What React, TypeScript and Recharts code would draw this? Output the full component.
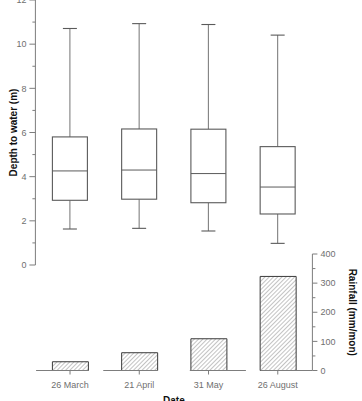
import React from 'react';
import { ComposedChart, Bar, XAxis, YAxis, Label, ReferenceLine } from 'recharts';

// Sampling dates shared by both panels
const dates = ['26 March', '21 April', '31 May', '26 August'];

// Depth-to-water distribution per date (m)
const whiskerLow = [1.63, 1.66, 1.54, 0.98];
const quartile1 = [2.93, 2.98, 2.82, 2.31];
const medians = [4.26, 4.3, 4.14, 3.53];
const quartile3 = [5.8, 6.16, 6.15, 5.36];
const whiskerHigh = [10.71, 10.93, 10.89, 10.41];

// Monthly rainfall (mm/mon)
const rainfall = [30, 61, 109, 323];

// Axis ticks
const depthTicks = [0, 1, 2, 3, 4, 5, 6, 7, 8, 9, 10, 11, 12];
const rainTicks = [0, 50, 100, 150, 200, 250, 300, 350, 400];
const dateTicks = [0, 1, 2, 3];

// Pieces of the rainfall baseline, in category units
const baselineSpans: [number, number][] = [
  [-0.49, 0.26],
  [0.48, 1.27],
  [1.73, 2.54],
  [2.75, 3.5],
];

const boxRows = dates.map((date, i) => ({
  date,
  low: whiskerLow[i],
  q1: quartile1[i],
  median: medians[i],
  q3: quartile3[i],
  high: whiskerHigh[i],
}));

const rainRows = dates.map((date, i) => ({ idx: i, date, rain: rainfall[i] }));

const FONT = '"Liberation Sans", Arial, Helvetica, sans-serif';
const AXIS = '#7d7d7d';
const TICK_TEXT = '#6f6f6f';
const BOX = '#5a5a5a';
const WHISKER = '#808080';

const BoxShape = (props: any) => {
  const { x, y, width, height, payload } = props;
  const { low, q1, median, q3, high } = payload;
  const top = Math.min(y, y + height);
  const h = Math.abs(height);
  const py = (v: number) => top + ((high - v) / (high - low)) * h;
  const cx = x + width / 2;
  const cap = 7;
  return (
    <g>
      <line x1={cx} x2={cx} y1={py(high)} y2={py(q3)} stroke={WHISKER} strokeWidth={1.1} />
      <line x1={cx} x2={cx} y1={py(q1)} y2={py(low)} stroke={WHISKER} strokeWidth={1.1} />
      <line x1={cx - cap} x2={cx + cap} y1={py(high)} y2={py(high)} stroke={BOX} strokeWidth={1.1} />
      <line x1={cx - cap} x2={cx + cap} y1={py(low)} y2={py(low)} stroke={BOX} strokeWidth={1.1} />
      <rect
        x={x}
        y={py(q3)}
        width={width}
        height={py(q1) - py(q3)}
        fill="#fff"
        stroke={BOX}
        strokeWidth={1.1}
      />
      <line x1={x} x2={x + width} y1={py(median)} y2={py(median)} stroke={BOX} strokeWidth={1} />
    </g>
  );
};

// Left axis tick: long tick + label on even values, short tick on odd values
const DepthTick = (props: any) => {
  const { x, y, payload } = props;
  const major = payload.value % 2 === 0;
  return (
    <g>
      <line x1={x + (major ? 3 : 6)} x2={x + 9} y1={y} y2={y} stroke={AXIS} strokeWidth={1} />
      {major && (
        <text x={x} y={y} dy={3.2} textAnchor="end" fontSize={9} fontFamily={FONT} fill={TICK_TEXT}>
          {payload.value}
        </text>
      )}
    </g>
  );
};

// Right axis tick: long tick + label every 100, short tick in between
const RainTick = (props: any) => {
  const { x, y, payload } = props;
  const major = payload.value % 100 === 0;
  return (
    <g>
      <line x1={x - 8} x2={x - (major ? 3 : 5)} y1={y} y2={y} stroke={AXIS} strokeWidth={1} />
      {major && (
        <text x={x} y={y} dy={3.2} textAnchor="start" fontSize={9} fontFamily={FONT} fill={TICK_TEXT}>
          {payload.value}
        </text>
      )}
    </g>
  );
};

export default function App() {
  return (
    <div style={{ position: 'absolute', left: 0, top: 0, width: 362, height: 401, background: '#fff' }}>
      {/* Rainfall bars */}
      <div style={{ position: 'absolute', left: 0, top: 240 }}>
        <ComposedChart
          width={362}
          height={161}
          data={rainRows}
          margin={{ top: 14, right: 0, bottom: 0, left: 35.4 }}
        >
          <defs>
            <pattern
              id="rainHatch"
              patternUnits="userSpaceOnUse"
              width={3}
              height={3}
              patternTransform="rotate(45)"
            >
              <rect width={3} height={3} fill="#fff" />
              <line x1={0} y1={0} x2={0} y2={3} stroke="#6a6a6a" strokeWidth={0.8} />
            </pattern>
          </defs>
          <XAxis
            dataKey="idx"
            type="number"
            domain={[-0.5, 3.5]}
            ticks={dateTicks}
            interval={0}
            height={30.5}
            tickSize={4}
            tickMargin={7}
            axisLine={false}
            tickLine={{ stroke: AXIS, strokeWidth: 1 }}
            tickFormatter={(v: number) => dates[v] ?? ''}
            tick={{ fontSize: 9, fontFamily: FONT, fill: TICK_TEXT }}
          >
            <Label
              content={(p: any) => {
                const vb = p.viewBox || { x: 35.4, y: 130.5, width: 277, height: 30.5 };
                return (
                  <text
                    x={vb.x + vb.width / 2}
                    y={vb.y + 33.8}
                    textAnchor="middle"
                    fontSize={10}
                    fontWeight="bold"
                    fontFamily={FONT}
                    fill="#111"
                  >
                    Date
                  </text>
                );
              }}
            />
          </XAxis>
          <YAxis
            orientation="right"
            domain={[0, 400]}
            ticks={rainTicks}
            interval={0}
            width={49.6}
            tickSize={5}
            tickMargin={3}
            tickLine={false}
            axisLine={{ stroke: AXIS, strokeWidth: 1 }}
            tick={<RainTick />}
          >
            <Label
              content={(p: any) => {
                const vb = p.viewBox || { x: 312.4, y: 14, width: 49.6, height: 116.5 };
                const cx = vb.x + 39.6;
                const cy = vb.y + vb.height / 2;
                return (
                  <text
                    x={cx}
                    y={cy}
                    transform={`rotate(90 ${cx} ${cy})`}
                    textAnchor="middle"
                    dominantBaseline="central"
                    fontSize={10}
                    fontWeight="bold"
                    fontFamily={FONT}
                    fill="#111"
                  >
                    Rainfall (mm/mon)
                  </text>
                );
              }}
            />
          </YAxis>
          {baselineSpans.map(([a, b], i) => (
            <ReferenceLine
              key={i}
              segment={[
                { x: a, y: 0 },
                { x: b, y: 0 },
              ]}
              stroke={AXIS}
              strokeWidth={1}
            />
          ))}
          <Bar
            dataKey="rain"
            barSize={36}
            fill="url(#rainHatch)"
            stroke="#3a3a3a"
            strokeWidth={1}
            isAnimationActive={false}
          />
        </ComposedChart>
      </div>

      {/* Depth to water box plots (drawn over the rainfall panel's empty top strip) */}
      <div style={{ position: 'absolute', left: 0, top: 0, pointerEvents: 'none' }}>
        <ComposedChart
          width={362}
          height={275}
          data={boxRows}
          margin={{ top: 0, right: 49.6, bottom: 10, left: 0 }}
        >
          <XAxis dataKey="date" type="category" hide />
          <YAxis
            domain={[0, 12]}
            ticks={depthTicks}
            interval={0}
            width={35.4}
            tickSize={6}
            tickMargin={3}
            tickLine={false}
            axisLine={{ stroke: AXIS, strokeWidth: 1 }}
            tick={<DepthTick />}
          >
            <Label
              content={(p: any) => {
                const vb = p.viewBox || { x: 0, y: 0, width: 35.4, height: 265 };
                const cx = vb.x + 13.8;
                const cy = vb.y + vb.height / 2;
                return (
                  <text
                    x={cx}
                    y={cy}
                    transform={`rotate(-90 ${cx} ${cy})`}
                    textAnchor="middle"
                    dominantBaseline="central"
                    fontSize={10}
                    fontWeight="bold"
                    fontFamily={FONT}
                    fill="#111"
                  >
                    Depth to water (m)
                  </text>
                );
              }}
            />
          </YAxis>
          <Bar
            dataKey={(d: any) => [d.low, d.high]}
            barSize={35}
            shape={<BoxShape />}
            isAnimationActive={false}
          />
        </ComposedChart>
      </div>
    </div>
  );
}
